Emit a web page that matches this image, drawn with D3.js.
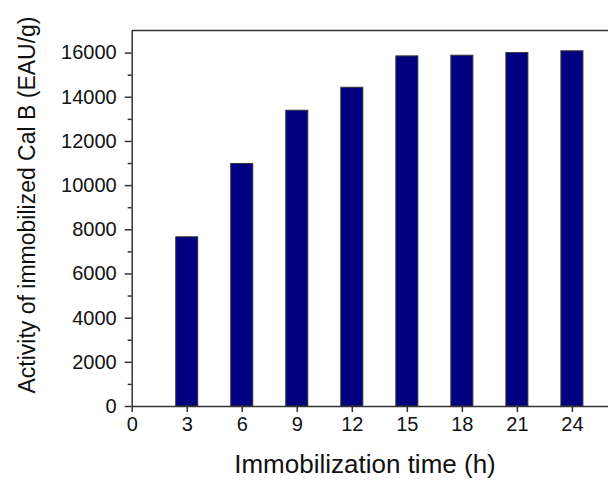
<!DOCTYPE html>
<html lang="en">
<head>
<meta charset="UTF-8">
<title>Activity of immobilized Cal B</title>
<script src="https://d3js.org/d3.v7.min.js"></script>
<style>
  body { margin: 0; background: #fff; }
  svg { display: block; font-family: "Liberation Sans", Arial, sans-serif; }
  .axis path, .axis line { stroke: #333; stroke-width: 1.5px; }
</style>
</head>
<body>
<svg id="chart" width="608" height="482"></svg>
<script>
// data
var hours = [3, 6, 9, 12, 15, 18, 21, 24];
var activity = [7660, 10980, 13390, 14430, 15850, 15880, 16000, 16080];
var xTicks = [0, 3, 6, 9, 12, 15, 18, 21, 24];
var yTicks = [0, 2000, 4000, 6000, 8000, 10000, 12000, 14000, 16000];
var yMinor = [1000, 3000, 5000, 7000, 9000, 11000, 13000, 15000];

var margin = {top: 30.5, left: 131.7, bottom: 76, right: 0};
var w = 608 - margin.left - margin.right + 0.6; // right frame falls just outside the window
var h = 482 - margin.top - margin.bottom;

var svg = d3.select("#chart");
var g = svg.append("g").attr("transform", "translate(" + margin.left + "," + margin.top + ")");

var x = d3.scaleLinear().domain([0, 26]).range([0, w]);
var y = d3.scaleLinear().domain([0, 17000]).range([h, 0]);
var barW = x(1.2) - x(0);

// bars
g.selectAll("rect.bar")
  .data(hours)
  .enter()
  .append("rect")
  .attr("class", "bar")
  .attr("x", d => x(d) - barW / 2)
  .attr("y", (d, i) => y(activity[i]))
  .attr("width", barW)
  .attr("height", (d, i) => h - y(activity[i]))
  .attr("fill", "#000080")
  .attr("stroke", "#333")
  .attr("stroke-width", 1);

// frame top line
g.append("line")
  .attr("x1", 0).attr("x2", w)
  .attr("y1", 0).attr("y2", 0)
  .attr("stroke", "#333").attr("stroke-width", 1.5);

// y minor ticks
g.append("g")
  .attr("class", "axis")
  .call(d3.axisLeft(y).tickValues(yMinor).tickSize(4).tickFormat(""))
  .select(".domain").remove();

// y axis
var yAxis = g.append("g")
  .attr("class", "axis")
  .call(d3.axisLeft(y).tickValues(yTicks).tickSize(7).tickSizeOuter(0).tickPadding(8).tickFormat(d3.format("d")));

// x axis
var xAxis = g.append("g")
  .attr("class", "axis")
  .attr("transform", "translate(0," + h + ")")
  .call(d3.axisBottom(x).tickValues(xTicks).tickSize(6).tickSizeOuter(0).tickPadding(5));

[yAxis, xAxis].forEach(a => {
  a.attr("font-family", null).attr("font-size", null);
  a.selectAll("text").style("font-size", "20px").attr("fill", "#111");
});

// axis titles
svg.append("text")
  .attr("x", 365)
  .attr("y", 473)
  .attr("text-anchor", "middle")
  .style("font-size", "26px")
  .attr("fill", "#111")
  .text("Immobilization time (h)");

svg.append("text")
  .attr("transform", "translate(35,205) rotate(-90)")
  .attr("text-anchor", "middle")
  .style("font-size", "23px")
  .attr("fill", "#111")
  .text("Activity of immobilized Cal B (EAU/g)");
</script>
</body>
</html>
